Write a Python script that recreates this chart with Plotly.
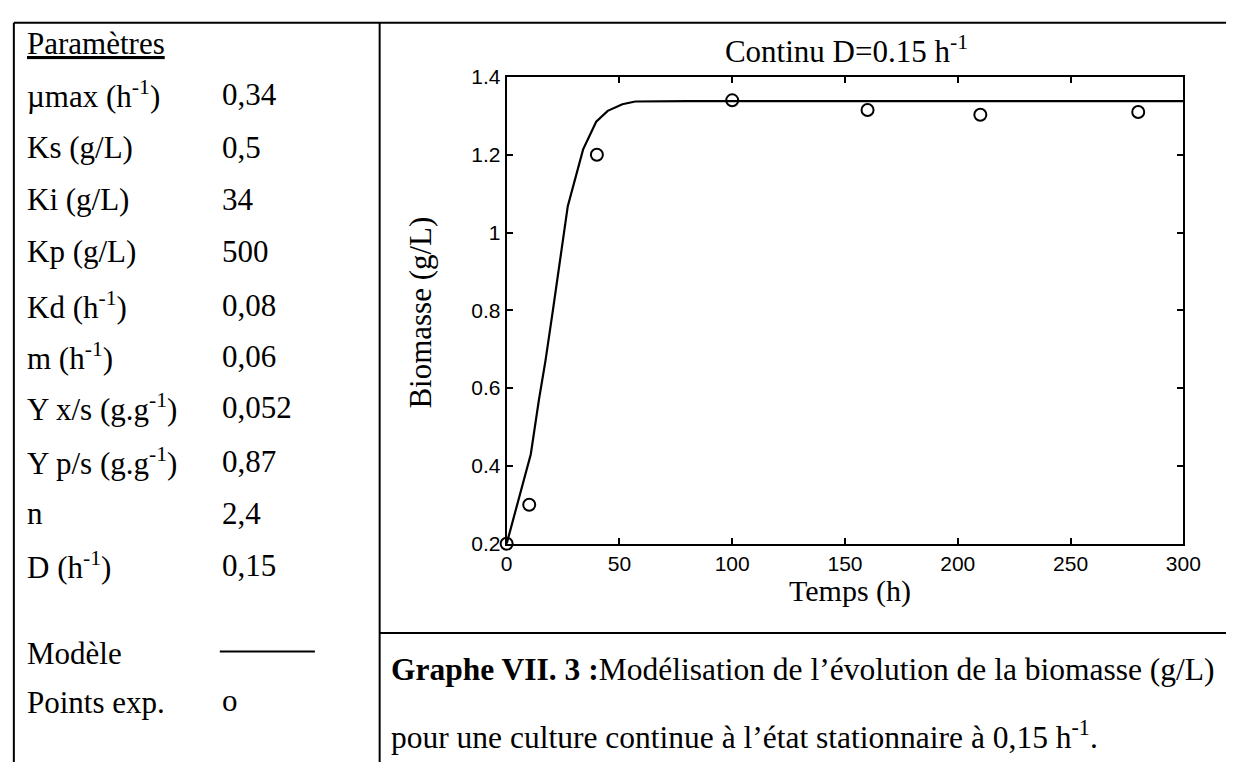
import plotly.graph_objects as go

W, H = 1244, 773

# Data
exp_time = [0, 10, 40, 100, 160, 210, 280]
exp_biomass = [0.2, 0.3, 1.2, 1.34, 1.315, 1.303, 1.31]

model_time = [0, 10.7, 14.3, 17.2, 20.5, 27.1, 33.9, 39.7, 44.8, 51.3, 57.0, 80, 150, 300]
model_biomass = [0.2, 0.43, 0.57, 0.67, 0.80, 1.068, 1.214, 1.285, 1.313, 1.330, 1.337, 1.338, 1.338, 1.338]

param_names = ["µmax (h<sup>-1</sup>)", "Ks (g/L)", "Ki (g/L)", "Kp (g/L)", "Kd (h<sup>-1</sup>)",
               "m (h<sup>-1</sup>)", "Y x/s (g.g<sup>-1</sup>)", "Y p/s (g.g<sup>-1</sup>)", "n", "D (h<sup>-1</sup>)"]
param_values = ["0,34", "0,5", "34", "500", "0,08", "0,06", "0,052", "0,87", "2,4", "0,15"]

x_ticks = [0, 50, 100, 150, 200, 250, 300]
y_ticks = [0.2, 0.4, 0.6, 0.8, 1.0, 1.2, 1.4]
y_ticktext = ["0.2", "0.4", "0.6", "0.8", "1", "1.2", "1.4"]


def px(x):
    return x / W


def py(y):
    return 1 - y / H


SERIF = "Liberation Serif, Times New Roman, serif"
SANS = "Liberation Sans, Arial, sans-serif"

fig = go.Figure()
fig.add_trace(go.Scatter(x=model_time, y=model_biomass, mode="lines",
                         line=dict(color="black", width=2.2), cliponaxis=False, name="Modèle"))
fig.add_trace(go.Scatter(x=exp_time, y=exp_biomass, mode="markers",
                         marker=dict(symbol="circle-open", size=12, color="black", line=dict(width=2)),
                         cliponaxis=False, name="Points exp."))

axis_common = dict(showgrid=False, zeroline=False, showline=True, linecolor="black", linewidth=2,
                   mirror="ticks", ticks="inside", ticklen=6, tickwidth=1.5, tickcolor="black",
                   tickfont=dict(family=SANS, size=21, color="black"))

fig.update_xaxes(range=[0, 300], tickvals=x_ticks, domain=[px(510.5), px(1200.5)], **axis_common)
fig.update_yaxes(range=[0.2, 1.4], tickvals=y_ticks, ticktext=y_ticktext,
                 domain=[py(548), py(67)], **axis_common)

ann = []
ann.append(dict(text="<u>Paramètres</u>", x=px(19), y=py(32)))
row_y = [85, 140, 193, 247, 302, 355, 408, 463, 517, 570]
for name, val, yy in zip(param_names, param_values, row_y):
    ann.append(dict(text=name, x=px(19), y=py(yy)))
    ann.append(dict(text=val, x=px(218), y=py(yy)))
ann.append(dict(text="Modèle", x=px(19), y=py(661)))
ann.append(dict(text="Points exp.", x=px(19), y=py(712)))
ann.append(dict(text="o", x=px(218), y=py(710)))
ann.append(dict(text="<b>Graphe VII. 3 :</b>Modélisation de l’évolution de la biomasse (g/L)",
                x=px(391), y=py(678), font=dict(family=SERIF, size=31.5, color="black")))
ann.append(dict(text="pour une culture continue à l’état stationnaire à 0,15 h<sup>-1</sup>.",
                x=px(391), y=py(745), font=dict(family=SERIF, size=31.5, color="black")))

annotations = []
for a in ann:
    d = dict(xref="paper", yref="paper", xanchor="left", yanchor="middle", showarrow=False,
             font=dict(family=SERIF, size=31, color="black"))
    d.update(a)
    annotations.append(d)

# axis titles
annotations.append(dict(text="Temps (h)", xref="paper", yref="paper", x=px(861), y=py(597),
                        xanchor="center", yanchor="middle", showarrow=False,
                        font=dict(family=SERIF, size=30, color="black")))
annotations.append(dict(text="Biomasse (g/L)", xref="paper", yref="paper", x=px(423), y=py(310),
                        xanchor="center", yanchor="middle", showarrow=False, textangle=-90,
                        font=dict(family=SERIF, size=31, color="black")))

shapes = []
for (x0, y0, x1, y1) in [(8, 11, 1244, 11), (8, 11, 8, 773), (381, 11, 381, 773),
                         (381, 640, 1244, 640), (218, 659, 315, 659)]:
    shapes.append(dict(type="line", xref="paper", yref="paper", x0=px(x0), y0=py(y0),
                       x1=px(x1), y1=py(y1), line=dict(color="black", width=2)))

fig.update_layout(
    width=W, height=H, margin=dict(l=0, r=0, t=0, b=0),
    paper_bgcolor="white", plot_bgcolor="white", showlegend=False,
    title=dict(text="Continu D=0.15 h<sup>-1</sup>", x=px(857), y=py(40), xanchor="center",
               yanchor="middle", xref="paper", yref="paper",
               font=dict(family=SERIF, size=31, color="black")),
    annotations=annotations, shapes=shapes,
)

fig.write_html(
    "out.html",
    config={"displayModeBar": False},
    post_script="document.body.style.margin='0';document.body.style.padding='0';"
                "document.body.style.overflow='hidden';"
                "document.documentElement.style.overflow='hidden';",
)
